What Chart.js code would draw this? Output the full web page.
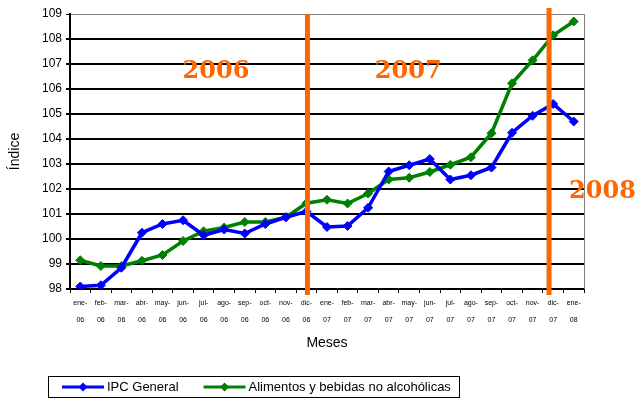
<!DOCTYPE html>
<html lang="es">
<head>
<meta charset="UTF-8">
<title>IPC General y Alimentos</title>
<script src="https://cdn.jsdelivr.net/npm/chart.js"></script>
<style>
    body { margin: 0; background: #fff; }
    .wrap { position: relative; width: 640px; height: 399px; }
</style>
</head>
<body>
<div class="wrap"><canvas id="ipcChart"></canvas></div>
<script>
    // meses y años de la serie (ene-06 .. ene-08)
    const meses = ['ene-','feb-','mar-','abr-','may-','jun-','jul-','ago-','sep-','oct-','nov-','dic-',
                   'ene-','feb-','mar-','abr-','may-','jun-','jul-','ago-','sep-','oct-','nov-','dic-','ene-'];
    const anios = ['06','06','06','06','06','06','06','06','06','06','06','06',
                   '07','07','07','07','07','07','07','07','07','07','07','07','08'];

    const ipcGeneral = [98.1, 98.15, 98.85, 100.25, 100.6, 100.75, 100.15, 100.38, 100.22, 100.6, 100.87, 101.1,
                        100.48, 100.52, 101.25, 102.7, 102.95, 103.2, 102.38, 102.55, 102.86, 104.25, 104.93, 105.4, 104.7];
    const alimentos  = [99.15, 98.92, 98.92, 99.13, 99.36, 99.92, 100.31, 100.46, 100.68, 100.68, 100.87, 101.43,
                        101.57, 101.42, 101.82, 102.38, 102.45, 102.68, 102.97, 103.27, 104.23, 106.23, 107.15, 108.15, 108.7];

    const yMin = 98, yMax = 109;

    // separadores de año (posición en índice de categoría) y rótulos
    const cortes = [11.05, 22.8];
    const rotulos = [
        { text: '2006', x: 6.6, y: 106.7 },
        { text: '2007', x: 15.95, y: 106.7 },
        { text: '2008', x: 25.4, y: 101.9 }
    ];

    const ORANGE = '#ff6600';
    const SANS = '"Liberation Sans", Arial, sans-serif';

    const decoraciones = {
        id: 'decoraciones',
        beforeDatasetsDraw(chart) {
            const { ctx, chartArea: a, scales: { x } } = chart;
            ctx.save();
            // borde gris derecho del área de trazado
            ctx.strokeStyle = '#808080';
            ctx.lineWidth = 1;
            ctx.beginPath();
            ctx.moveTo(a.right + 0.5, a.top);
            ctx.lineTo(a.right + 0.5, a.bottom);
            ctx.stroke();
            ctx.restore();
        },
        afterDatasetsDraw(chart) {
            const { ctx, chartArea: a, scales: { x, y } } = chart;
            ctx.save();
            ctx.strokeStyle = ORANGE;
            ctx.lineWidth = 5;
            cortes.forEach((c, i) => {
                const px = x.getPixelForValue(c);
                ctx.beginPath();
                ctx.moveTo(px, a.top - (i === 1 ? 6 : 0));
                ctx.lineTo(px, a.bottom + 6);
                ctx.stroke();
            });
            ctx.fillStyle = ORANGE;
            ctx.font = 'bold 24px "DejaVu Serif", serif';
            ctx.textAlign = 'center';
            ctx.textBaseline = 'middle';
            rotulos.forEach(r => {
                ctx.fillText(r.text, x.getPixelForValue(r.x), y.getPixelForValue(r.y));
            });
            ctx.restore();
        },
        afterDraw(chart) {
            const ctx = chart.ctx;
            ctx.save();
            ctx.strokeStyle = '#000';
            ctx.lineWidth = 1;
            ctx.strokeRect(48.5, 376.5, 411, 21);
            ctx.font = '13px ' + SANS;
            ctx.textBaseline = 'middle';
            ctx.fillStyle = '#000';
            let lx = 62;
            const ly = 387;
            chart.data.datasets.forEach(ds => {
                ctx.strokeStyle = ds.borderColor;
                ctx.fillStyle = ds.borderColor;
                ctx.lineWidth = 3;
                ctx.beginPath();
                ctx.moveTo(lx, ly);
                ctx.lineTo(lx + 42, ly);
                ctx.stroke();
                const cx = lx + 21;
                ctx.beginPath();
                ctx.moveTo(cx, ly - 4.5);
                ctx.lineTo(cx + 4.5, ly);
                ctx.lineTo(cx, ly + 4.5);
                ctx.lineTo(cx - 4.5, ly);
                ctx.closePath();
                ctx.fill();
                ctx.fillStyle = '#000';
                ctx.fillText(ds.label, lx + 45, ly);
                lx += 45 + ctx.measureText(ds.label).width + 25;
            });
            ctx.restore();
        }
    };

    const serie = (label, data, color) => ({
        label, data,
        borderColor: color,
        backgroundColor: color,
        borderWidth: 3.5,
        pointStyle: 'rectRot',
        pointRadius: 4.5,
        pointBorderWidth: 1,
        pointHoverRadius: 4.5,
        tension: 0
    });

    new Chart(document.getElementById('ipcChart'), {
        type: 'line',
        data: {
            labels: meses.map((m, i) => [m, anios[i]]),
            datasets: [
                serie('IPC General', ipcGeneral, '#0000ff'),
                serie('Alimentos y bebidas no alcohólicas', alimentos, '#008000')
            ]
        },
        plugins: [decoraciones],
        options: {
            responsive: true,
            maintainAspectRatio: false,
            animation: false,
            layout: { padding: { left: 0, right: 56, top: 14, bottom: 40 } },
            plugins: { legend: { display: false }, tooltip: { enabled: false } },
            scales: {
                x: {
                    offset: true,
                    grid: { offset: true, drawOnChartArea: false, color: '#000', tickLength: 4 },
                    border: { color: '#000', width: 2 },
                    ticks: {
                        color: '#000', maxRotation: 0, autoSkip: false, padding: 2,
                        font: { family: SANS, size: 7, lineHeight: 2.4 }
                    },
                    title: {
                        display: true, text: 'Meses', color: '#000',
                        font: { family: SANS, size: 14 }, padding: { top: 0, bottom: 7.6 }
                    },
                    afterFit: s => { s.height = 70; }
                },
                y: {
                    min: yMin, max: yMax,
                    ticks: {
                        stepSize: 1, color: '#000', padding: 4,
                        font: { family: SANS, size: 12 }
                    },
                    grid: {
                        color: c => c.tick && c.tick.value === yMax ? '#808080' : '#000',
                        lineWidth: c => c.tick && c.tick.value === yMax ? 1 : 2,
                        tickColor: '#000',
                        tickLength: 4
                    },
                    border: { color: '#000', width: 2 },
                    title: {
                        display: true, text: 'Índice', color: '#000',
                        font: { family: SANS, size: 14 }, padding: { top: 6.6, bottom: 0 }
                    },
                    afterFit: s => { s.width = 70; }
                }
            }
        }
    });
</script>
</body>
</html>
